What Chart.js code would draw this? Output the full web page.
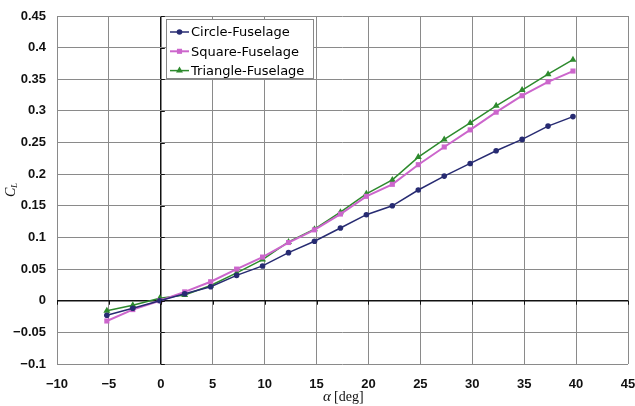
<!DOCTYPE html>
<html>
<head>
<meta charset="utf-8">
<script src="https://cdn.jsdelivr.net/npm/chart.js@4.4.1/dist/chart.umd.min.js"></script>
<style>
  body { margin: 0; background: #fff; }
</style>
</head>
<body>
<canvas id="clPlot" width="635" height="406"></canvas>
<script>
// angle of attack [deg]
const alpha = [-5.2, -2.7, -0.1, 2.3, 4.8, 7.3, 9.8, 12.3, 14.8, 17.3, 19.8, 22.3, 24.8, 27.3, 29.8, 32.3, 34.8, 37.3, 39.7];
const circle_cl = [-0.023, -0.012, 0.0, 0.011, 0.022, 0.040, 0.055, 0.076, 0.094, 0.115, 0.136, 0.150, 0.175, 0.197, 0.217, 0.237, 0.255, 0.276, 0.291];
const square_cl = [-0.032, -0.014, 0.0, 0.014, 0.030, 0.050, 0.069, 0.092, 0.112, 0.137, 0.165, 0.184, 0.215, 0.243, 0.270, 0.298, 0.324, 0.346, 0.363];
const triangle_cl = [-0.016, -0.007, 0.004, 0.009, 0.024, 0.044, 0.065, 0.093, 0.113, 0.140, 0.169, 0.191, 0.227, 0.255, 0.281, 0.308, 0.333, 0.358, 0.381];
const series_names = ['Circle-Fuselage', 'Square-Fuselage', 'Triangle-Fuselage'];

var color_navy = '#272b72';
var color_pink = '#cc66cc';
var color_green = '#2d8a2d';

const toPoints = (ys) => ys.map((y, i) => ({ x: alpha[i], y: y }));
const minus = (s) => s.replace('-', '\u2212');

// zero lines with small ticks, the inner legend and the axis titles
const decorations = {
    id: 'decorations',
    afterDatasetsDraw(chart) {
        const { ctx, scales } = chart;
        const x0 = scales.x.getPixelForValue(0);
        const y0 = scales.y.getPixelForValue(0);
        ctx.save();
        ctx.strokeStyle = '#111';
        ctx.lineWidth = 1;
        // ticks on the vertical zero axis
        for (let v = -0.1; v <= 0.451; v += 0.05) {
            const py = Math.round(scales.y.getPixelForValue(v)) + 0.5;
            ctx.beginPath();
            ctx.moveTo(x0, py);
            ctx.lineTo(x0 + 4, py);
            ctx.stroke();
        }
        // ticks on the horizontal zero axis
        for (let v = -10; v <= 45; v += 5) {
            const px = Math.round(scales.x.getPixelForValue(v)) + 0.5;
            ctx.beginPath();
            ctx.moveTo(px, y0);
            ctx.lineTo(px, y0 + 4);
            ctx.stroke();
        }

        // legend box
        const lx = 166, ly = 19, lw = 147, lh = 59;
        ctx.fillStyle = '#fff';
        ctx.fillRect(lx, ly, lw, lh);
        ctx.strokeStyle = '#888';
        ctx.strokeRect(lx + 0.5, ly + 0.5, lw, lh);
        ctx.font = '13px "DejaVu Sans"';
        ctx.textBaseline = 'middle';
        chart.data.datasets.forEach((ds, i) => {
            const cy = 32 + i * 19.3;
            ctx.strokeStyle = ds.borderColor;
            ctx.lineWidth = ds.borderWidth;
            ctx.beginPath();
            ctx.moveTo(170, cy);
            ctx.lineTo(189, cy);
            ctx.stroke();
            ctx.fillStyle = ds.pointBackgroundColor;
            Chart.helpers.drawPoint(ctx, {
                pointStyle: ds.pointStyle, radius: ds.pointRadius, rotation: 0, borderWidth: 0
            }, 179.5, cy);
            ctx.fillStyle = '#000';
            ctx.fillText(ds.label, 191, cy + 1);
        });

        // x title: alpha [deg]
        ctx.fillStyle = '#111';
        ctx.textBaseline = 'alphabetic';
        ctx.font = 'italic 15px "Liberation Serif"';
        ctx.fillText('\u03b1', 323, 401);
        ctx.font = '14px "Liberation Serif"';
        ctx.fillText('[deg]', 334, 401);

        // y title: C_L
        ctx.translate(15, 197);
        ctx.rotate(-Math.PI / 2);
        ctx.font = 'italic 14px "Liberation Serif"';
        ctx.fillText('C', 0, 0);
        ctx.font = 'italic 9px "Liberation Serif"';
        ctx.fillText('L', 9, 2);
        ctx.restore();
    }
};

const tickFont = { size: 13, weight: 'bold', family: '"Liberation Sans"' };

const config = {
    type: 'line',
    data: {
        datasets: [{
            label: series_names[0],
            data: toPoints(circle_cl),
            borderColor: color_navy,
            backgroundColor: color_navy,
            pointBackgroundColor: color_navy,
            borderWidth: 1.5,
            pointStyle: 'circle',
            pointRadius: 2.8,
            pointBorderWidth: 0
        }, {
            label: series_names[1],
            data: toPoints(square_cl),
            borderColor: color_pink,
            backgroundColor: color_pink,
            pointBackgroundColor: color_pink,
            borderWidth: 2,
            pointStyle: 'rect',
            pointRadius: 3.6,
            pointBorderWidth: 0
        }, {
            label: series_names[2],
            data: toPoints(triangle_cl),
            borderColor: color_green,
            backgroundColor: color_green,
            pointBackgroundColor: color_green,
            borderWidth: 1.5,
            pointStyle: 'triangle',
            pointRadius: 4,
            pointBorderWidth: 0
        }]
    },
    options: {
        responsive: false,
        animation: false,
        layout: { padding: { top: 16, right: 7, left: 0, bottom: 0 } },
        plugins: {
            legend: { display: false },
            tooltip: { enabled: false }
        },
        scales: {
            x: {
                type: 'linear',
                min: -10,
                max: 45,
                afterFit(scale) {
                    scale.height = 42;
                    scale.paddingLeft = 0;
                    scale.paddingRight = 0;
                },
                border: { display: false },
                grid: {
                    drawTicks: false,
                    color: (c) => c.tick && c.tick.value === 0 ? '#111' : '#8a8a8a',
                    lineWidth: (c) => c.tick && c.tick.value === 0 ? 1.5 : 1
                },
                ticks: {
                    stepSize: 5,
                    padding: 13,
                    color: '#111',
                    font: tickFont,
                    callback: (v) => minus(String(v))
                }
            },
            y: {
                type: 'linear',
                min: -0.1,
                max: 0.45,
                afterFit(scale) {
                    scale.width = 57;
                    scale.paddingTop = 0;
                    scale.paddingBottom = 0;
                },
                border: { display: false },
                grid: {
                    drawTicks: false,
                    color: (c) => c.tick && Math.abs(c.tick.value) < 1e-9 ? '#111' : '#8a8a8a',
                    lineWidth: (c) => c.tick && Math.abs(c.tick.value) < 1e-9 ? 1.5 : 1
                },
                ticks: {
                    stepSize: 0.05,
                    padding: 11,
                    color: '#111',
                    font: tickFont,
                    callback: (v) => minus(String(parseFloat(v.toFixed(2))))
                }
            }
        }
    },
    plugins: [decorations]
};

const ctx = document.getElementById('clPlot').getContext('2d');
new Chart(ctx, config);
</script>
</body>
</html>
